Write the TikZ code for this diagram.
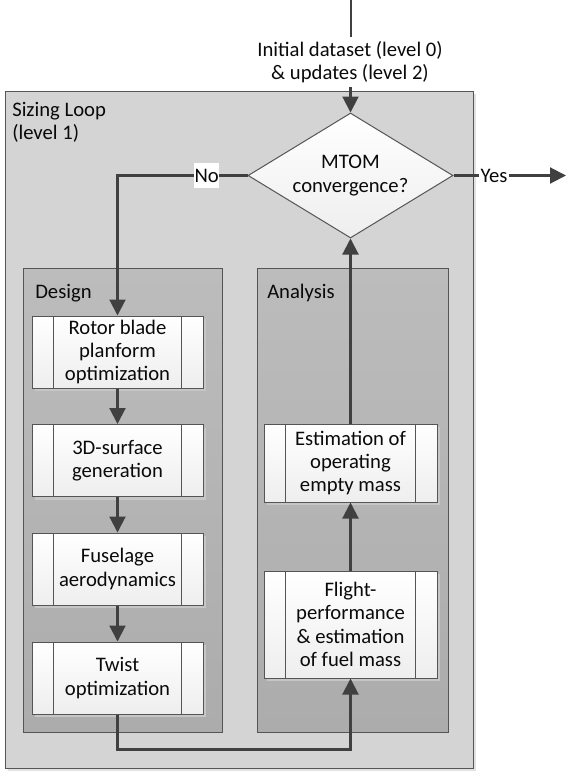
\documentclass[tikz,border=0pt]{standalone}
\usepackage{fontspec}
\setmainfont{Carlito}
\usetikzlibrary{arrows.meta,shapes.geometric,shadows,fit,calc}
\definecolor{loopfill}{RGB}{212,212,212}
\definecolor{loopshadow}{RGB}{226,226,226}
\definecolor{grouptop}{RGB}{188,188,188}
\definecolor{groupbot}{RGB}{172,172,172}
\definecolor{edgecol}{RGB}{85,85,85}
\definecolor{conncol}{RGB}{64,64,64}
\definecolor{procbot}{RGB}{238,238,238}
\definecolor{procshadow}{RGB}{198,198,198}
\definecolor{txtcol}{RGB}{10,10,10}
\begin{document}
\begin{tikzpicture}[x=0.75pt,y=-0.75pt,
  font=\fontsize{15.5}{17.6}\selectfont,
  every node/.style={text=txtcol},
  loopbox/.style={draw=edgecol, line width=0.75pt, fill=loopfill, inner sep=0pt,
    drop shadow={shadow xshift=2.5pt, shadow yshift=-2.5pt, fill=loopshadow, opacity=1}},
  groupbox/.style={draw=edgecol, line width=0.75pt, top color=grouptop, bottom color=groupbot, inner sep=0pt},
  proc/.style={draw=edgecol, line width=0.75pt, top color=white, bottom color=procbot,
    align=center, inner sep=0pt,
    drop shadow={shadow xshift=2.25pt, shadow yshift=-2.25pt, fill=procshadow, opacity=1},
    path picture={
      \draw[edgecol, line width=0.75pt] ([xshift=16pt]path picture bounding box.north west) -- ([xshift=16pt]path picture bounding box.south west);
      \draw[edgecol, line width=0.75pt] ([xshift=-16pt]path picture bounding box.north east) -- ([xshift=-16pt]path picture bounding box.south east);}},
  designproc/.style={proc, minimum width=128.25pt, minimum height=54pt},
  decision/.style={diamond, draw=edgecol, line width=0.75pt, top color=white, bottom color=procbot,
    align=center, inner sep=0pt, shape aspect=1.64, minimum width=153.75pt, minimum height=93.75pt},
  conn/.style={draw=conncol, line width=1.6pt},
  arr/.style={conn, -{Triangle[length=12pt,width=12pt]}},
  nolabel/.style={fill=white, inner xsep=0.5pt, inner ysep=4.4pt},
  yeslabel/.style={fill=white, inner xsep=1pt, inner ysep=1pt}
]
\useasboundingbox (0,0) rectangle (566,771);

% containers
\coordinate (lA) at (5,91);
\coordinate (lB) at (473,768);
\node[loopbox, fit=(lA)(lB)] (loop) {};
\coordinate (dA) at (23,268);
\coordinate (dB) at (222,732);
\node[groupbox, fit=(dA)(dB)] (design) {};
\coordinate (aA) at (257,268);
\coordinate (aB) at (448,732);
\node[groupbox, fit=(aA)(aB)] (analysis) {};

\node[anchor=north west, align=left, inner sep=0pt] (looplbl) at (12,102) {Sizing Loop\\(level 1)};
\node[anchor=base west, inner sep=0pt] (deslbl) at (35,298.5) {Design};
\node[anchor=base west, inner sep=0pt] (analbl) at (267,298) {Analysis};

% process boxes
\node[designproc] (rotor) at (117.5,352) {Rotor blade\\planform\\optimization};
\node[designproc] (surf) at (117.5,460.5) {3D-surface\\generation};
\node[designproc] (fuse) at (117.5,569) {Fuselage\\aerodynamics};
\node[designproc] (twist) at (117.5,678) {Twist\\optimization};
\node[proc, minimum width=129.75pt, minimum height=58.5pt] (est) at (350.5,463) {Estimation of\\operating\\empty mass};
\node[proc, minimum width=129.75pt, minimum height=80.25pt] (flight) at (350.5,624.5) {Flight-\\performance\\\& estimation\\of fuel mass};

% decision
\node[decision] (dia) at (350.5,175.5) {MTOM\\convergence?};

% input
\coordinate (src) at (351,0);
\node[inner sep=3pt, align=center] (init) at (350,62) {Initial dataset (level 0)\\\& updates (level 2)};
\draw[conn] (src) -- (src |- init.north);
\draw[arr] (init.south -| dia.north) -- (dia.north);

% output
\coordinate (out) at (566,175.5);
\draw[arr] (dia.east) -- node[pos=0.36, yeslabel] {Yes} (out);

% loop back
\draw[arr] (dia.west) -- node[pos=0.314, nolabel] {No} (dia.west -| rotor.north) -- (rotor.north);

% design chain
\draw[arr] (rotor) -- (surf);
\draw[arr] (surf) -- (fuse);
\draw[arr] (fuse) -- (twist);
\draw[arr] (twist.south) -- ++(0,35) -| (flight.south);

% analysis chain
\draw[arr] (flight) -- (est);
\draw[arr] (est) -- (dia);
\end{tikzpicture}
\end{document}
